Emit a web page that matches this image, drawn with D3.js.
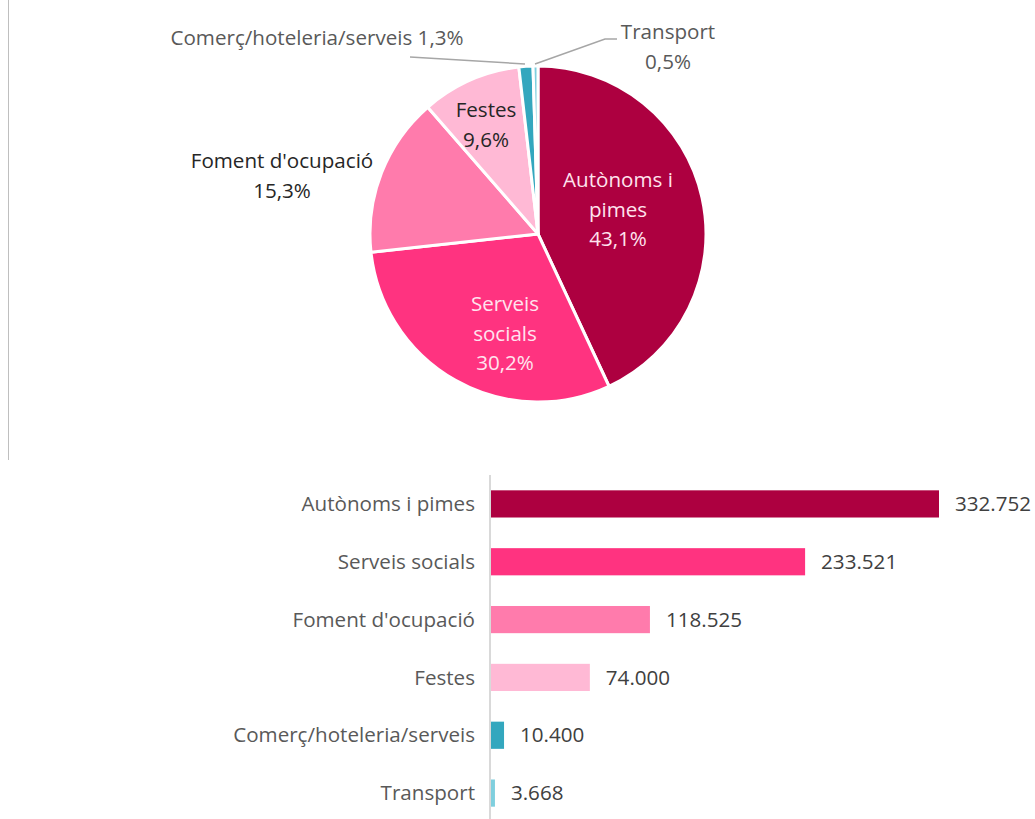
<!DOCTYPE html>
<html><head><meta charset="utf-8">
<script src="https://cdn.jsdelivr.net/npm/d3@7"></script>
<style>body{margin:0;background:#fff;} svg{display:block;font-family:"Open Sans", Lato, sans-serif;}</style>
</head><body>
<svg id="c" width="1035" height="819"></svg>
<script>
const categories = ["Autònoms i pimes","Serveis socials","Foment d'ocupació","Festes","Comerç/hoteleria/serveis","Transport"];
const values = [332752, 233521, 118525, 74000, 10400, 3668];
const percentLabels = ["43,1%","30,2%","15,3%","9,6%","1,3%","0,5%"];
const valueLabels = ["332.752","233.521","118.525","74.000","10.400","3.668"];
const colors = ["#AD0040","#FF3380","#FF7BAC","#FFB9D5","#33A7BE","#7FCFDE"];

const svg = d3.select("#c");
svg.append("line").attr("x1",8.5).attr("x2",8.5).attr("y1",0).attr("y2",460).attr("stroke","#bfbfbf").attr("stroke-width",1);

// PIE
const cx = 538, cy = 234, R = 168;
const pie = d3.pie().sort(null).value(d=>d)(values);
const arc = d3.arc().innerRadius(0).outerRadius(R);
const g = svg.append("g").attr("transform",`translate(${cx},${cy})`);
g.selectAll("path").data(pie).join("path").attr("d",arc).attr("fill",(d,i)=>colors[i]).attr("stroke","#fff").attr("stroke-width",3).attr("stroke-linejoin","round");

const fs = 20.6;
function multi(x,y,lines,color,anchor){
  const t = svg.append("text").attr("x",x).attr("y",y).attr("fill",color).attr("font-size",fs).attr("text-anchor",anchor||"middle");
  lines.forEach((l,i)=>t.append("tspan").attr("x",x).attr("dy",i?29.5:0).text(l));
}
multi(618,187,["Autònoms i","pimes",percentLabels[0]],"#FFE3EE");
multi(505,311,["Serveis","socials",percentLabels[1]],"#FFE3EE");
multi(486,117,["Festes",percentLabels[3]],"#262626");
multi(282,168,["Foment d'ocupació",percentLabels[2]],"#262626");
multi(317,45,["Comerç/hoteleria/serveis "+percentLabels[4]],"#595959");
multi(668,39,["Transport",percentLabels[5]],"#595959");
const lc = d3.line();
svg.append("path").attr("d",lc([[410,57],[525,64]])).attr("fill","none").attr("stroke","#a6a6a6").attr("stroke-width",1.5);
svg.append("path").attr("d",lc([[535,64],[605,39],[617,39]])).attr("fill","none").attr("stroke","#a6a6a6").attr("stroke-width",1.5);

// BAR
const x0 = 490;
const x = d3.scaleLinear().domain([0,332752]).range([x0, 939]);
const y = d3.scaleBand().domain(categories).range([475, 822]).paddingInner(0.53).paddingOuter(0.265);
svg.selectAll("rect.bar").data(values).join("rect").attr("class","bar")
  .attr("x",x0+1).attr("y",(d,i)=>y(categories[i])).attr("height",y.bandwidth())
  .attr("width",d=>x(d)-x0-1).attr("fill",(d,i)=>colors[i]);
svg.append("line").attr("x1",x0).attr("x2",x0).attr("y1",475).attr("y2",819).attr("stroke","#d9d9d9").attr("stroke-width",2);
svg.selectAll("text.cat").data(categories).join("text").attr("class","cat")
  .attr("x",475).attr("y",d=>y(d)+y.bandwidth()/2).attr("dy","0.35em").attr("text-anchor","end")
  .attr("font-size",fs).attr("fill","#595959").text(d=>d);
svg.selectAll("text.val").data(values).join("text").attr("class","val")
  .attr("x",d=>x(d)+16).attr("y",(d,i)=>y(categories[i])+y.bandwidth()/2).attr("dy","0.35em")
  .attr("font-size",fs).attr("fill","#404040").text((d,i)=>valueLabels[i]);
</script>
</body></html>
